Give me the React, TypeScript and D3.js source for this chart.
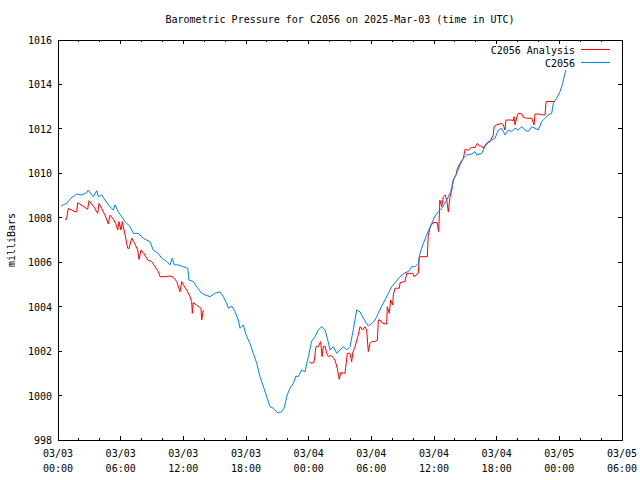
import React from "react";
import * as d3 from "d3";

// ---- Data (hours after 2025-03-03 00:00 UTC, pressure in millibars) ----
const TITLE = "Barometric Pressure for C2056 on 2025-Mar-03 (time in UTC)";
const Y_LABEL = "milliBars";
const SERIES_NAMES = ["C2056 Analysis", "C2056"];
const SERIES_COLORS = ["#ff0000", "#0080ff"];
const Y_TICKS = [998, 1000, 1002, 1004, 1006, 1008, 1010, 1012, 1014, 1016];
const X_TICK_HOURS = [0, 6, 12, 18, 24, 30, 36, 42, 48, 54];

const stationHours = [
  0.29, 0.83, 1.24, 1.79, 2.27, 2.75, 2.9, 3.23, 3.38, 3.71, 3.86, 4.18, 4.5, 4.82, 5.29, 5.46, 5.77,
  6.1, 6.42, 6.89, 7.21, 7.69, 8.01, 8.33, 8.81, 9.12, 9.6, 9.93, 10.41, 10.72, 10.94, 11.14, 11.52,
  12.0, 12.42, 12.54, 12.95, 13.28, 13.76, 14.08, 14.55, 15.03, 15.51, 15.83, 16.15, 16.31, 16.63,
  16.95, 17.26, 17.43, 17.74, 18.0, 18.38, 18.7, 19.03, 19.34, 19.72, 20.14, 20.3, 20.61, 21.0, 21.32,
  21.64, 21.95, 22.21, 22.53, 22.79, 23.01, 23.33, 23.65, 23.97, 24.29, 24.61, 24.92, 25.25, 25.57,
  25.88, 26.04, 26.36, 26.69, 27.0, 27.32, 27.64, 27.96, 28.27, 28.6, 28.92, 29.23, 29.71, 30.04,
  30.35, 30.67, 30.99, 31.31, 31.63, 31.95, 32.36, 32.75, 33.22, 33.54, 33.87, 34.18, 34.5, 34.66,
  34.98, 35.3, 35.78, 36.1, 36.41, 36.74, 37.22, 37.6, 37.85, 38.17, 38.49, 38.81, 39.13, 39.61,
  39.93, 40.09, 40.57, 40.88, 41.2, 41.53, 41.84, 42.16, 42.48, 42.8, 43.12, 43.44, 43.76, 44.07,
  44.4, 44.71, 45.03, 45.36, 45.67, 45.99, 46.31, 46.63, 46.95, 47.27, 47.42, 47.75, 48.07, 48.32,
  48.54, 48.64,
];
const stationPressure = [
  1008.53, 1008.65, 1008.88, 1009.07, 1009.03, 1009.13, 1009.25, 1009.03, 1008.95, 1009.22, 1008.95,
  1009.03, 1008.8, 1008.58, 1008.35, 1008.58, 1008.27, 1008.05, 1007.83, 1007.6, 1007.3, 1007.3,
  1007.15, 1007.03, 1006.93, 1006.55, 1006.4, 1006.18, 1006.03, 1005.88, 1006.18, 1005.88, 1005.88,
  1005.8, 1005.73, 1005.2, 1005.13, 1004.9, 1004.6, 1004.53, 1004.45, 1004.6, 1004.67, 1004.45,
  1004.15, 1003.93, 1004.03, 1003.77, 1003.4, 1003.03, 1003.18, 1002.73, 1002.35, 1001.9, 1001.45,
  1000.85, 1000.33, 999.72, 999.5, 999.43, 999.23, 999.23, 999.43, 1000.03, 1000.33, 1000.55,
  1000.88, 1000.85, 1001.15, 1001.07, 1001.75, 1002.45, 1002.65, 1002.95, 1003.1, 1002.95, 1002.4,
  1002.05, 1002.2, 1001.9, 1002.05, 1002.2, 1002.05, 1002.2, 1002.95, 1003.85, 1003.77, 1003.48,
  1003.13, 1003.25, 1003.4, 1003.7, 1004.03, 1004.3, 1004.6, 1004.9, 1005.13, 1005.35, 1005.53,
  1005.58, 1005.8, 1005.8, 1005.95, 1006.4, 1006.85, 1007.23, 1007.75, 1008.08, 1008.27, 1008.42,
  1008.8, 1009.17, 1009.7, 1010.0, 1010.38, 1010.68, 1010.83, 1010.87, 1010.98, 1010.83, 1010.9,
  1011.2, 1011.42, 1011.5, 1011.58, 1011.95, 1012.03, 1011.73, 1011.95, 1011.88, 1012.03, 1011.95,
  1012.1, 1011.95, 1011.88, 1012.1, 1012.03, 1011.95, 1012.33, 1012.48, 1012.63, 1012.7, 1013.15,
  1013.38, 1013.68, 1014.05, 1014.5, 1014.65,
];

// Analysis: two separate runs of data, split by a gap
const analysisHours1 = [
  0.67, 0.81, 0.99, 1.31, 1.63, 1.79, 1.89, 2.2, 2.59, 2.84, 2.97, 3.23, 3.48, 3.71, 3.8, 3.93, 4.18,
  4.5, 4.82, 4.98, 5.29, 5.52, 5.72, 5.84, 6.03, 6.16, 6.42, 6.67, 6.8, 7.06, 7.31, 7.63, 7.76, 7.95,
  8.26, 8.59, 8.97, 9.29, 9.6, 9.77, 10.25, 10.72, 11.04, 11.37, 11.68, 11.75, 11.84, 12.0, 12.32,
  12.64, 12.8, 12.86, 12.95, 13.28, 13.69, 13.76, 13.91,
];
const analysisPressure1 = [
  1007.93, 1007.93, 1008.42, 1008.35, 1008.27, 1008.27, 1008.68, 1008.58, 1008.47, 1008.38, 1008.77,
  1008.62, 1008.47, 1008.27, 1008.2, 1008.65, 1008.42, 1008.12, 1007.72, 1008.12, 1007.93, 1007.75,
  1007.45, 1007.83, 1007.45, 1007.83, 1007.23, 1006.63, 1006.62, 1007.08, 1006.88, 1006.55, 1006.13,
  1006.55, 1006.37, 1006.1, 1006.03, 1005.8, 1005.58, 1005.35, 1005.35, 1005.38, 1005.32, 1005.13,
  1004.67, 1004.85, 1005.13, 1004.98, 1004.75, 1004.45, 1004.22, 1003.7, 1004.18, 1004.07, 1003.93,
  1003.4, 1003.85,
];
const analysisHours2 = [
  24.06, 24.29, 24.51, 24.7, 24.92, 25.15, 25.28, 25.4, 25.57, 25.73, 25.88, 26.11, 26.3, 26.52,
  26.74, 26.93, 27.07, 27.48, 27.7, 27.96, 28.12, 28.22, 28.44, 28.75, 28.92, 29.17, 29.39, 29.55,
  29.71, 29.87, 30.04, 30.35, 30.58, 30.67, 30.83, 31.09, 31.47, 31.53, 31.72, 31.85, 32.04, 32.1,
  32.27, 32.68, 32.75, 33.22, 33.39, 33.96, 34.08, 34.5, 34.59, 35.36, 35.45, 35.65, 35.9, 36.3,
  36.45, 36.56, 36.74, 36.9, 37.06, 37.22, 37.37, 37.54, 37.7, 37.85, 38.11, 38.24, 38.49, 38.81,
  38.97, 39.29, 39.61, 39.93, 40.15, 40.34, 40.57, 40.72, 40.88, 41.04, 41.36, 41.68, 41.75, 42.0,
  42.48, 42.64, 42.8, 42.89, 43.44, 43.59, 43.66, 43.76, 43.92, 44.07, 44.4, 44.55, 44.87, 45.36,
  45.58, 45.67, 45.99, 46.31, 46.63, 46.73, 47.5,
];
const analysisPressure2 = [
  1001.52, 1001.45, 1001.5, 1002.2, 1002.2, 1002.43, 1001.75, 1002.2, 1002.22, 1001.9, 1001.75,
  1001.8, 1001.75, 1001.6, 1001.22, 1000.73, 1001.03, 1001.0, 1001.9, 1001.9, 1001.52, 1001.93,
  1002.2, 1002.73, 1003.1, 1002.95, 1003.1, 1002.95, 1001.98, 1002.35, 1002.43, 1002.43, 1002.5,
  1003.4, 1003.4, 1003.25, 1003.22, 1004.0, 1003.7, 1004.3, 1004.08, 1004.53, 1004.83, 1004.83,
  1005.08, 1005.13, 1005.5, 1005.5, 1005.35, 1005.5, 1006.25, 1006.25, 1007.2, 1007.6, 1007.78,
  1007.78, 1007.38, 1008.8, 1008.5, 1008.95, 1009.03, 1008.8, 1008.27, 1008.95, 1009.25, 1009.7,
  1009.92, 1010.22, 1010.45, 1010.68, 1011.07, 1011.05, 1011.17, 1011.17, 1011.35, 1011.23, 1011.23,
  1011.13, 1011.25, 1011.35, 1011.42, 1011.73, 1012.1, 1012.18, 1012.25, 1012.18, 1011.95, 1012.4,
  1012.4, 1012.37, 1012.55, 1012.18, 1012.52, 1012.7, 1012.68, 1012.52, 1012.48, 1012.48, 1012.18,
  1012.67, 1012.67, 1012.63, 1012.63, 1013.23, 1013.23,
];

const START = Date.UTC(2025, 2, 3, 0, 0);
const toDate = (h: number) => new Date(START + h * 3600 * 1000);

const W = 640;
const H = 480;
const M = { left: 58, right: 622, top: 40, bottom: 440 };
const FONT = "'DejaVu Sans Mono', 'Liberation Mono', monospace";

type Pt = { t: Date; v: number };
const zip = (hs: number[], vs: number[]): Pt[] => hs.map((h, i) => ({ t: toDate(h), v: vs[i] }));

export default function App() {
  const x = d3.scaleUtc().domain([toDate(0), toDate(54)]).range([M.left, M.right]);
  const y = d3.scaleLinear().domain([998, 1016]).range([M.bottom, M.top]);
  const line = d3
    .line<Pt>()
    .x((d) => x(d.t))
    .y((d) => y(d.v));

  const station = zip(stationHours, stationPressure);
  const analysisA = zip(analysisHours1, analysisPressure1);
  const analysisB = zip(analysisHours2, analysisPressure2);

  const fmtDay = d3.utcFormat("%m/%d");
  const fmtTime = d3.utcFormat("%H:%M");
  const minorHours = d3.range(0, 55, 2).filter((h) => h % 6 !== 0);

  const major = 4;
  const minor = 2;

  return (
    <svg
      width={W}
      height={H}
      style={{ position: "absolute", left: 0, top: 0, background: "#fff" }}
      fontFamily={FONT}
      fontSize={10}
    >
      <rect x={0} y={0} width={W} height={H} fill="#fff" />
      <text x={(M.left + M.right) / 2} y={23} textAnchor="middle" fill="#000">
        {TITLE}
      </text>
      <text
        transform={`translate(15,240) rotate(-90)`}
        textAnchor="middle"
        fill="#000"
      >
        {Y_LABEL}
      </text>

      {/* ticks */}
      <g stroke="#000" strokeWidth={1} shapeRendering="crispEdges">
        {Y_TICKS.map((v) => (
          <g key={"y" + v}>
            <line x1={M.left} x2={M.left + major} y1={y(v)} y2={y(v)} />
            <line x1={M.right} x2={M.right - major} y1={y(v)} y2={y(v)} />
          </g>
        ))}
        {X_TICK_HOURS.map((h) => (
          <g key={"x" + h}>
            <line x1={x(toDate(h))} x2={x(toDate(h))} y1={M.bottom} y2={M.bottom - major} />
            <line x1={x(toDate(h))} x2={x(toDate(h))} y1={M.top} y2={M.top + major} />
          </g>
        ))}
        {minorHours.map((h) => (
          <g key={"m" + h}>
            <line x1={x(toDate(h))} x2={x(toDate(h))} y1={M.bottom} y2={M.bottom - minor} />
            <line x1={x(toDate(h))} x2={x(toDate(h))} y1={M.top} y2={M.top + minor} />
          </g>
        ))}
      </g>

      {/* tick labels */}
      {Y_TICKS.map((v) => (
        <text key={"yl" + v} x={M.left - 6} y={y(v) + 4} textAnchor="end" fill="#000">
          {v}
        </text>
      ))}
      {X_TICK_HOURS.map((h) => (
        <text key={"xl" + h} textAnchor="middle" fill="#000">
          <tspan x={x(toDate(h))} y={457}>
            {fmtDay(toDate(h))}
          </tspan>
          <tspan x={x(toDate(h))} y={472}>
            {fmtTime(toDate(h))}
          </tspan>
        </text>
      ))}

      {/* data */}
      <g fill="none" strokeWidth={1}>
        <path d={line(analysisA) || ""} stroke={SERIES_COLORS[0]} />
        <path d={line(analysisB) || ""} stroke={SERIES_COLORS[0]} />
        <path d={line(station) || ""} stroke={SERIES_COLORS[1]} />
      </g>

      {/* frame */}
      <rect
        x={M.left}
        y={M.top}
        width={M.right - M.left}
        height={M.bottom - M.top}
        fill="none"
        stroke="#000"
        shapeRendering="crispEdges"
      />

      {/* legend */}
      {SERIES_NAMES.map((name, i) => (
        <g key={name}>
          <text x={575} y={53.5 + i * 13} textAnchor="end" fill="#000">
            {name}
          </text>
          <line
            x1={581}
            x2={610}
            y1={49.5 + i * 13}
            y2={49.5 + i * 13}
            stroke={SERIES_COLORS[i]}
            shapeRendering="crispEdges"
          />
        </g>
      ))}
    </svg>
  );
}
